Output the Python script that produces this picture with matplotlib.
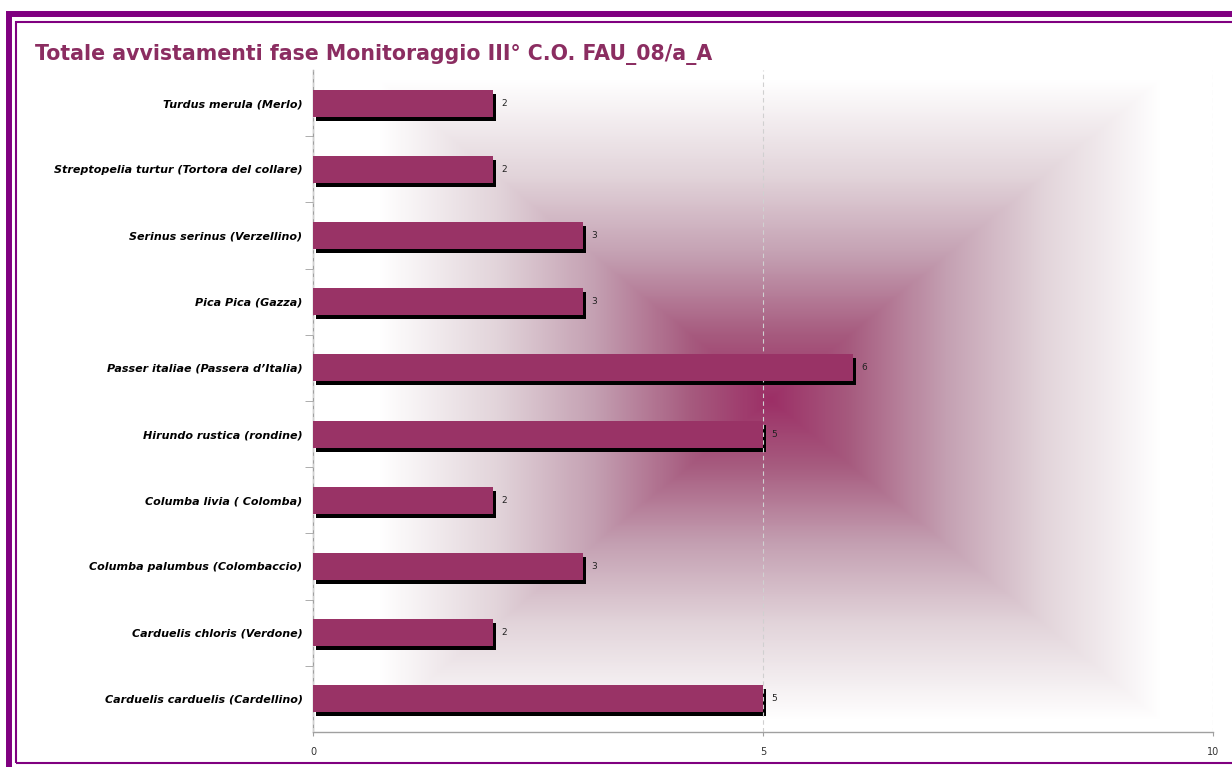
import numpy as np
import matplotlib
matplotlib.use("Agg")
import matplotlib.pyplot as plt
from matplotlib.colors import LinearSegmentedColormap
from matplotlib.patches import Rectangle

species = [
    "Turdus merula (Merlo)",
    "Streptopelia turtur (Tortora del collare)",
    "Serinus serinus (Verzellino)",
    "Pica Pica (Gazza)",
    "Passer italiae (Passera d\u2019Italia)",
    "Hirundo rustica (rondine)",
    "Columba livia ( Colomba)",
    "Columba palumbus (Colombaccio)",
    "Carduelis chloris (Verdone)",
    "Carduelis carduelis (Cardellino)",
]
avvistamenti = [2, 2, 3, 3, 6, 5, 2, 3, 2, 5]
x_ticks = [0, 5, 10]

bar_color = "#993366"
title_color = "#8b2d61"
frame_color = "#800080"

fig = plt.figure(figsize=(12.32, 7.67), dpi=100)
fig.patch.set_facecolor("white")

# doppia cornice viola (tagliata a destra e in basso come nell'originale)
W, H = 1232, 767
fig.patches.append(Rectangle((9 / W, 1 - 790 / H), 1240 / W, 776 / H, transform=fig.transFigure,
                             fill=False, edgecolor=frame_color, linewidth=4.3))
fig.patches.append(Rectangle((16 / W, 1 - 763 / H), 1240 / W, 741 / H, transform=fig.transFigure,
                             fill=False, edgecolor=frame_color, linewidth=1.5))

ax = fig.add_axes([313 / W, 1 - 732 / H, 900 / W, 662 / H])

# sfondo sfumato "dal centro"
n = len(species)
xs = np.linspace(0, 10, 600)
ys = np.linspace(-0.5, n - 0.5, 500)
X, Y = np.meshgrid(xs, ys)
cx, cy, a, b = 5.08, 4.48, 4.35, 4.85
t = np.clip(np.maximum(np.abs(X - cx) / a, np.abs(Y - cy) / b), 0, 1)
cmap = LinearSegmentedColormap.from_list(
    "sfondo", [(0, "#9c2f66"), (0.2, "#a65a7e"), (0.45, "#c4a0b2"), (0.7, "#e2d4da"), (1, "#ffffff")])
ax.imshow(t, cmap=cmap, vmin=0, vmax=1, extent=(0, 10, n - 0.5, -0.5),
          aspect="auto", interpolation="bilinear", zorder=0)

pos = np.arange(n)
ax.barh(pos + 0.06, avvistamenti, left=0.035, height=0.41, color="black", zorder=2)
ax.barh(pos, avvistamenti, height=0.41, color=bar_color, zorder=3)

for p, v in zip(pos, avvistamenti):
    ax.text(v + 0.09, p, str(v), ha="left", va="center", fontsize=6.5, color="#222222", zorder=4)

ax.set_xlim(0, 10)
ax.set_ylim(n - 0.5, -0.5)
ax.set_xticks(x_ticks)
ax.set_xticklabels([str(x) for x in x_ticks], fontsize=7, color="#333333")
ax.tick_params(axis="x", length=3, color="#a0a0a0", pad=8)
ax.set_yticks(pos)
ax.set_yticklabels(species, fontsize=8, fontweight="bold", fontstyle="italic", color="black")
ax.tick_params(axis="y", which="major", length=0, pad=7.5)
ax.set_yticks(np.arange(1, n) - 0.5, minor=True)
ax.tick_params(axis="y", which="minor", length=6, color="#a0a0a0")

ax.xaxis.grid(True, linestyle=(0, (4, 3)), color="#d0d0d0", linewidth=0.8, zorder=1)
ax.set_axisbelow(False)
for s in ["top", "right"]:
    ax.spines[s].set_visible(False)
for s in ["left", "bottom"]:
    ax.spines[s].set_color("#a0a0a0")
    ax.spines[s].set_linewidth(1)

fig.text(35 / W, 1 - 60 / H, "Totale avvistamenti fase Monitoraggio III\u00b0 C.O. FAU_08/a_A",
         fontsize=14.8, fontweight="bold", color=title_color, ha="left", va="baseline")

fig.savefig("out.png", dpi=100)
